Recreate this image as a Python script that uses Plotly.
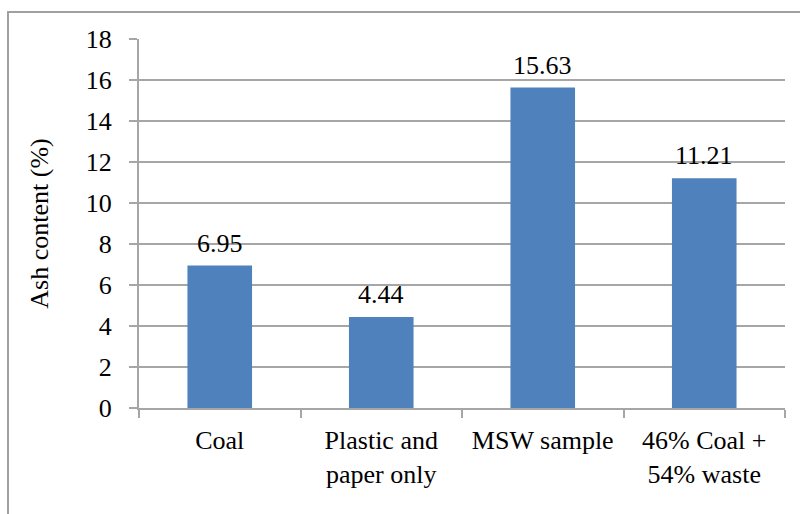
import plotly.graph_objects as go

categories = ["Coal", "Plastic and<br>paper only", "MSW sample", "46% Coal +<br>54% waste"]
ash_content = [6.95, 4.44, 15.63, 11.21]
y_ticks = [0, 2, 4, 6, 8, 10, 12, 14, 16, 18]

FONT = "Times New Roman"
SIZE = 26
GRID = "#A6A6A6"
BAR = "#4F81BD"

W, H = 800, 514
ML, MR, MT, MB = 139, 15, 39, 106
pw, ph = W - ML - MR, H - MT - MB

fig = go.Figure()
fig.add_trace(go.Bar(
    x=categories,
    y=ash_content,
    marker=dict(color=BAR, line=dict(width=0)),
    width=0.4,
    hoverinfo="skip",
))

# value labels above the bars
for c, v in zip(categories, ash_content):
    fig.add_annotation(
        x=c, y=v, text=f"{v:.2f}", showarrow=False,
        yanchor="bottom", yshift=6,
        font=dict(family=FONT, size=SIZE, color="black"),
    )

# outer chart frame
def px_x(p):
    return (p - ML) / pw

def px_y(p):
    return (H - MB - p) / ph

fig.add_shape(
    type="rect", xref="paper", yref="paper",
    x0=px_x(8), x1=px_x(830), y0=px_y(12), y1=px_y(540),
    line=dict(color="#A0A0A0", width=2), fillcolor="rgba(0,0,0,0)",
    layer="below",
)

fig.update_layout(
    width=W, height=H,
    margin=dict(l=ML, r=MR, t=MT, b=MB, pad=0),
    paper_bgcolor="white", plot_bgcolor="white",
    showlegend=False,
    xaxis=dict(
        type="category",
        showgrid=False,
        showline=True, linecolor=GRID, linewidth=2,
        ticks="outside", tickson="boundaries", ticklen=8, tickcolor=GRID, tickwidth=2,
        tickfont=dict(family=FONT, size=SIZE, color="black"),
        tickangle=0,
        ticklabelstandoff=8,
    ),
    yaxis=dict(
        range=[0, 18],
        tickvals=y_ticks,
        showgrid=True, gridcolor=GRID, gridwidth=2,
        showline=True, linecolor=GRID, linewidth=2,
        ticks="outside", ticklen=8, tickcolor=GRID, tickwidth=2,
        tickfont=dict(family=FONT, size=SIZE, color="black"),
        ticklabelstandoff=12,
        zeroline=False,
        title=dict(text="Ash content (%)", font=dict(family=FONT, size=SIZE, color="black"), standoff=30),
    ),
)

fig.write_html("out.html")
